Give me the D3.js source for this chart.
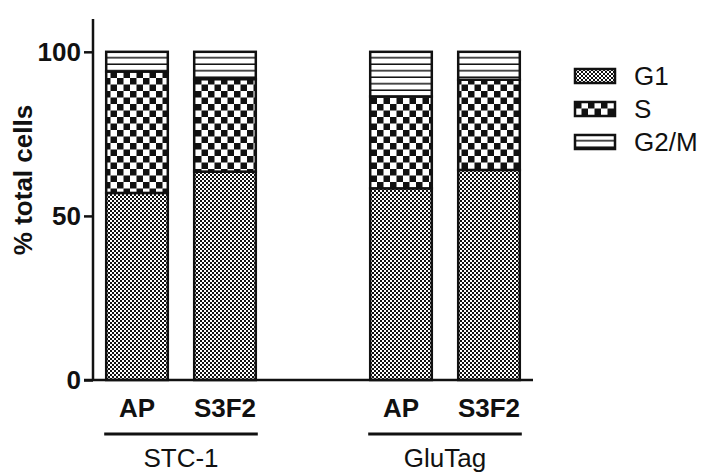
<!DOCTYPE html>
<html>
<head>
<meta charset="utf-8">
<script src="https://cdn.jsdelivr.net/npm/d3@7"></script>
<style>
  body { margin: 0; background: #fff; }
  text { font-family: "Liberation Sans", Arial, sans-serif; fill: #111; }
</style>
</head>
<body>
<div id="chart"></div>
<script>
// Data.
const groups = ['STC-1', 'GluTag'];
const treatments = ['AP', 'S3F2'];
const phases = ['G1', 'S', 'G2/M'];
const g1Values = [57, 63.5, 58.4, 64];
const sValues = [37, 28.2, 28, 27.5];
const g2mValues = [6, 8.3, 13.6, 8.5];
const yTicks = [0, 50, 100];

const attrs = {
  width: 709,
  height: 474,
  axisLeft: 93,
  axisRight: 533,
  yTop: 110,
  font: '"Liberation Sans", Arial, sans-serif'
};

// One slot per bar, with an empty slot between the two groups.
const slots = [];
groups.forEach((g, gi) => {
  if (gi > 0) slots.push({ key: 'gap' + gi, empty: true });
  treatments.forEach(t => slots.push({ key: g + '|' + t, group: g, treatment: t }));
});

const bars = [];
let k = 0;
groups.forEach(g => {
  treatments.forEach(t => {
    const vals = [g1Values[k], sValues[k], g2mValues[k]];
    let y0 = 0;
    const segs = phases.map((p, i) => {
      const s = { phase: p, y0: y0, y1: y0 + vals[i] };
      y0 += vals[i];
      return s;
    });
    bars.push({ key: g + '|' + t, group: g, treatment: t, segs: segs });
    k++;
  });
});

const x = d3.scaleBand()
  .domain(slots.map(d => d.key))
  .range([attrs.axisLeft, attrs.axisRight])
  .paddingInner(0.3)
  .paddingOuter(0.15);

const y = d3.scaleLinear()
  .domain([0, attrs.yTop])
  .range([380, 19]);

const svg = d3.select('#chart').append('svg')
  .attr('width', attrs.width)
  .attr('height', attrs.height);

// Fill patterns.
const defs = svg.append('defs');

const fine = defs.append('pattern')
  .attr('id', 'pat-G1')
  .attr('patternUnits', 'userSpaceOnUse')
  .attr('width', 4).attr('height', 4);
fine.append('rect').attr('width', 4).attr('height', 4).attr('fill', '#fff');
fine.append('rect').attr('width', 2).attr('height', 2).attr('fill', '#111');
fine.append('rect').attr('x', 2).attr('y', 2).attr('width', 2).attr('height', 2).attr('fill', '#111');

const coarse = defs.append('pattern')
  .attr('id', 'pat-S')
  .attr('patternUnits', 'userSpaceOnUse')
  .attr('width', 13).attr('height', 13);
coarse.append('rect').attr('width', 13).attr('height', 13).attr('fill', '#fff');
coarse.append('rect').attr('width', 6.5).attr('height', 6.5).attr('fill', '#111');
coarse.append('rect').attr('x', 6.5).attr('y', 6.5).attr('width', 6.5).attr('height', 6.5).attr('fill', '#111');

const lines = defs.append('pattern')
  .attr('id', 'pat-G2M')
  .attr('patternUnits', 'userSpaceOnUse')
  .attr('width', 8).attr('height', 6.5);
lines.append('rect').attr('width', 8).attr('height', 6.5).attr('fill', '#fff');
lines.append('rect').attr('y', 5).attr('width', 8).attr('height', 1.5).attr('fill', '#111');

const patId = { 'G1': 'pat-G1', 'S': 'pat-S', 'G2/M': 'pat-G2M' };

// Bars.
const barG = svg.selectAll('.bar')
  .data(bars)
  .enter().append('g')
  .attr('class', 'bar');

barG.selectAll('rect')
  .data(d => d.segs.map(s => Object.assign({ key: d.key }, s)))
  .enter().append('rect')
  .attr('x', d => x(d.key))
  .attr('width', x.bandwidth())
  .attr('y', d => y(d.y1))
  .attr('height', d => y(d.y0) - y(d.y1))
  .attr('fill', d => 'url(#' + patId[d.phase] + ')')
  .attr('stroke', '#111')
  .attr('stroke-width', 2.5);

// Axes.
const yAxis = d3.axisLeft(y)
  .tickValues(yTicks)
  .tickSize(9)
  .tickPadding(3);

const yAxisG = svg.append('g')
  .attr('transform', 'translate(' + attrs.axisLeft + ',0)')
  .call(yAxis);
yAxisG.select('.domain').remove();
yAxisG.selectAll('.tick line').attr('stroke', '#111').attr('stroke-width', 2.5);
yAxisG.selectAll('.tick text')
  .attr('font-size', 26)
  .attr('font-weight', 'bold')
  .attr('font-family', attrs.font)
  .attr('fill', '#111');

svg.append('line')
  .attr('x1', attrs.axisLeft).attr('x2', attrs.axisLeft)
  .attr('y1', y(attrs.yTop)).attr('y2', y(0) + 1)
  .attr('stroke', '#111').attr('stroke-width', 2.5);

svg.append('line')
  .attr('x1', attrs.axisLeft - 9).attr('x2', attrs.axisRight)
  .attr('y1', y(0)).attr('y2', y(0))
  .attr('stroke', '#111').attr('stroke-width', 2.5);

// Treatment labels under each bar.
svg.selectAll('.tlabel')
  .data(bars)
  .enter().append('text')
  .attr('class', 'tlabel')
  .attr('x', d => x(d.key) + x.bandwidth() / 2)
  .attr('y', 417)
  .attr('text-anchor', 'middle')
  .attr('font-size', 26)
  .attr('font-weight', 'bold')
  .text(d => d.treatment);

// Group brackets and names.
const groupInfo = groups.map(g => {
  const ks = bars.filter(b => b.group === g).map(b => b.key);
  return { group: g, x0: x(ks[0]) - 2, x1: x(ks[ks.length - 1]) + x.bandwidth() + 2 };
});

svg.selectAll('.gline')
  .data(groupInfo)
  .enter().append('line')
  .attr('class', 'gline')
  .attr('x1', d => d.x0).attr('x2', d => d.x1)
  .attr('y1', 434).attr('y2', 434)
  .attr('stroke', '#111').attr('stroke-width', 3);

svg.selectAll('.glabel')
  .data(groupInfo)
  .enter().append('text')
  .attr('class', 'glabel')
  .attr('x', d => (d.x0 + d.x1) / 2)
  .attr('y', 467)
  .attr('text-anchor', 'middle')
  .attr('font-size', 26)
  .text(d => d.group);

// Y title.
svg.append('text')
  .attr('transform', 'translate(32,180) rotate(-90)')
  .attr('text-anchor', 'middle')
  .attr('font-size', 26)
  .attr('font-weight', 'bold')
  .text('% total cells');

// Legend.
const legend = svg.selectAll('.legend')
  .data(phases)
  .enter().append('g')
  .attr('class', 'legend')
  .attr('transform', (d, i) => 'translate(575,' + (69 + i * 33) + ')');

legend.append('rect')
  .attr('width', 40).attr('height', 14)
  .attr('fill', d => 'url(#' + patId[d] + ')')
  .attr('stroke', '#111')
  .attr('stroke-width', 2.5);

legend.append('text')
  .attr('x', 59)
  .attr('y', 16)
  .attr('font-size', 26)
  .text(d => d);
</script>
</body>
</html>
